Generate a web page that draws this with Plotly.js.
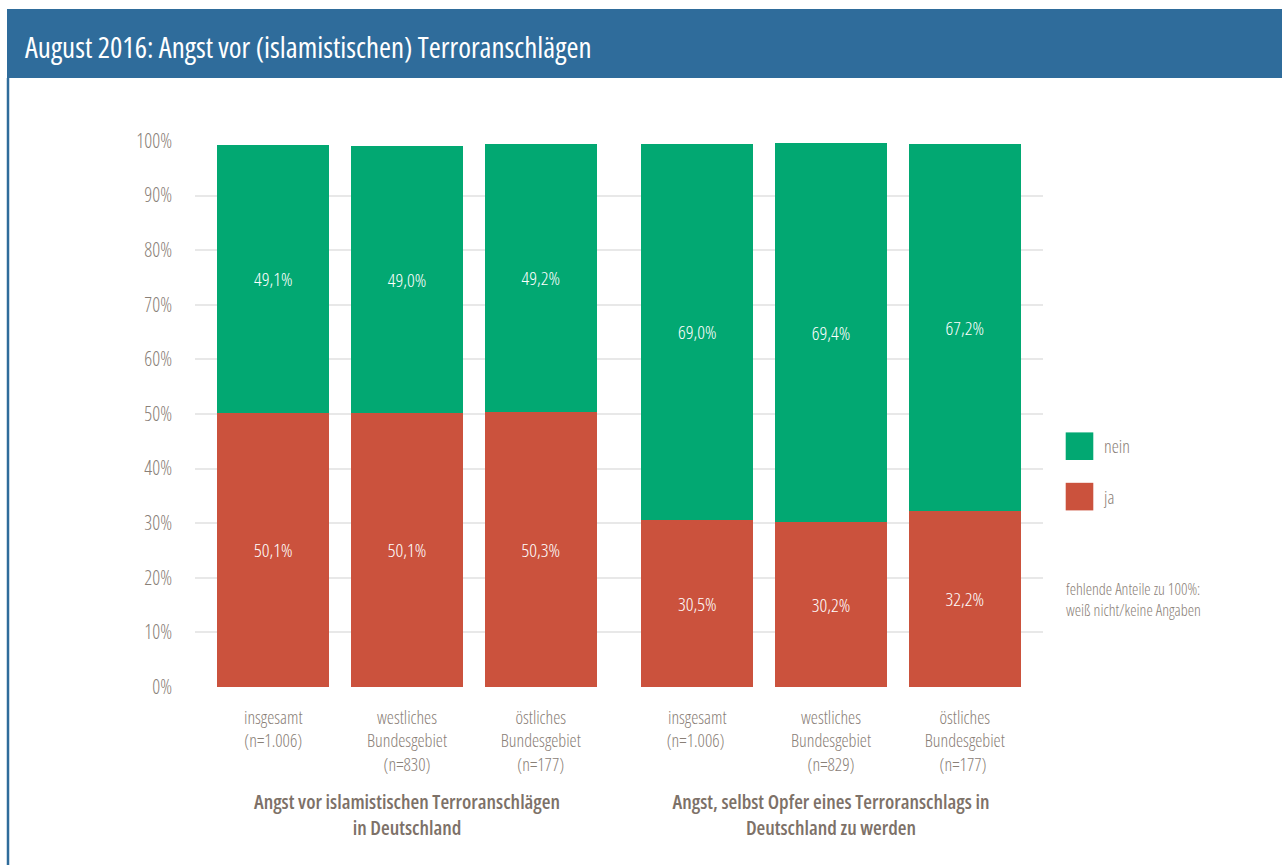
<!DOCTYPE html>
<html>
<head>
<meta charset="utf-8">
<script src="https://cdn.plot.ly/plotly-3.0.1.min.js"></script>
<style>
html,body{margin:0;padding:0;background:#fff;}
#chart{width:1282px;height:865px;}
#chart text{font-stretch:75% !important;}
</style>
</head>
<body>
<div id="chart"></div>
<script>
// ---- data ----
const titleText = "August 2016: Angst vor (islamistischen) Terroranschlägen";
const group1Title = "Angst vor islamistischen Terroranschlägen<br>in Deutschland";
const group2Title = "Angst, selbst Opfer eines Terroranschlags in<br>Deutschland zu werden";
const group1Categories = ["insgesamt<br>(n=1.006)", "westliches<br>Bundesgebiet<br>(n=830)", "östliches<br>Bundesgebiet<br>(n=177)"];
const group2Categories = ["insgesamt<br>(n=1.006) ", "westliches<br>Bundesgebiet<br>(n=829)", "östliches<br>Bundesgebiet<br>(n=177) "];
const group1Ja   = [50.1, 50.1, 50.3];
const group1Nein = [49.1, 49.0, 49.2];
const group2Ja   = [30.5, 30.2, 32.2];
const group2Nein = [69.0, 69.4, 67.2];
const yTicks = [0, 10, 20, 30, 40, 50, 60, 70, 80, 90, 100];
const yTickLabels = ["0%", "10%", "20%", "30%", "40%", "50%", "60%", "70%", "80%", "90%", "100%"];
const noteText = "fehlende Anteile zu 100%:<br>weiß nicht/keine Angaben";

// ---- style ----
const GREEN = "#02a872";
const RED = "#cb523d";
const BLUE = "#2f6c9b";
const GREY = "#8a8077";
const FONT = "'Open Sans', 'Roboto Condensed', sans-serif";

function barTrace(x, y, name, color, xa, showLeg, rank) {
  return {
    type: "bar", x: x, y: y, name: name, xaxis: xa, yaxis: "y",
    marker: {color: color, line: {width: 0}},
    texttemplate: "%{y:.1f}%", textposition: "inside", insidetextanchor: "middle",
    textfont: {color: "#ffffff", size: 19, family: FONT, weight: 350},
    showlegend: showLeg, legendgroup: name, legendrank: rank, hoverinfo: "skip"
  };
}

const traces = [
  barTrace(group1Categories, group1Ja, "ja", RED, "x", true, 2),
  barTrace(group1Categories, group1Nein, "nein", GREEN, "x", true, 1),
  barTrace(group2Categories, group2Ja, "ja", RED, "x2", false, 2),
  barTrace(group2Categories, group2Nein, "nein", GREEN, "x2", false, 1)
];

// pixel helpers -> paper coords (plot area: x 195..1043, y 141..687)
const L = 195, R = 1043, T = 141, B = 687;
const px = v => (v - L) / (R - L);
const py = v => (B - v) / (B - T);

const xaxisCommon = {
  type: "category", range: [-0.585, 2.585], showgrid: false, zeroline: false,
  showline: false, ticks: "", tickfont: {family: FONT, size: 18, color: GREY, weight: 350},
  ticklabelstandoff: 18, fixedrange: true
};
const groupTitleFont = {family: FONT, size: 20, color: "#7d7168", weight: 600};

const layout = {
  width: 1282, height: 865,
  margin: {l: L, r: 1282 - R, t: T, b: 865 - B, pad: 0},
  paper_bgcolor: "#ffffff", plot_bgcolor: "#ffffff",
  barmode: "stack", bargap: 0.164,
  separators: ",.",
  font: {family: FONT, color: GREY},
  title: {
    text: titleText, x: 25 / 1282, xanchor: "left", xref: "container",
    y: 1 - 48 / 865, yanchor: "middle", yref: "container",
    font: {family: FONT, size: 29, color: "#ffffff", weight: 400}
  },
  xaxis: Object.assign({}, xaxisCommon, {
    domain: [0, 0.5], anchor: "y",
    title: {text: group1Title, standoff: 20, font: groupTitleFont}
  }),
  xaxis2: Object.assign({}, xaxisCommon, {
    domain: [0.5, 1], anchor: "y",
    title: {text: group2Title, standoff: 20, font: groupTitleFont}
  }),
  yaxis: {
    range: [0, 100], tickvals: yTicks, ticktext: yTickLabels, showgrid: true,
    gridcolor: "#e8e8e8", gridwidth: 2, zeroline: false, showline: false, ticks: "",
    tickfont: {family: FONT, size: 19.5, color: GREY, weight: 350}, ticklabelstandoff: 22, fixedrange: true
  },
  legend: {
    x: px(1064), xanchor: "left", y: py(428), yanchor: "top",
    traceorder: "grouped", tracegroupgap: 24,
    font: {family: FONT, size: 18, color: GREY, weight: 350}, bgcolor: "rgba(0,0,0,0)",
    itemwidth: 30
  },
  shapes: [
    {type: "rect", xref: "paper", yref: "paper", x0: px(7), x1: px(1290), y0: py(78), y1: py(9),
     fillcolor: BLUE, line: {width: 0}, layer: "below"},
    {type: "line", xref: "paper", yref: "paper", x0: px(8), x1: px(8), y0: py(78), y1: py(870),
     line: {color: BLUE, width: 2.5}, layer: "below"}
  ],
  annotations: [
    {text: noteText, xref: "paper", yref: "paper", x: px(1064), y: py(599), xanchor: "left", yanchor: "middle",
     align: "left", showarrow: false, font: {family: FONT, size: 16, color: GREY, weight: 350}}
  ]
};

Plotly.newPlot("chart", traces, layout, {displayModeBar: false, staticPlot: true}).then(function () {
  document.querySelectorAll(".legend .legendpoints path").forEach(function (p) {
    p.setAttribute("transform", "translate(15.5,0) scale(2.3)");
  });
});
</script>
</body>
</html>
